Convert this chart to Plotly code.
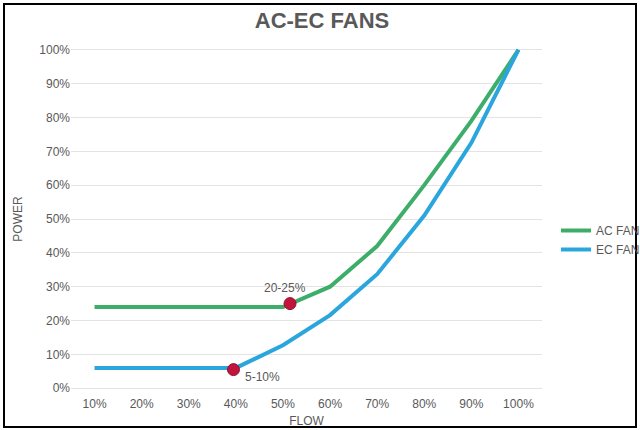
import plotly.graph_objects as go

flow = [10, 20, 30, 40, 50, 60, 70, 80, 90, 100]
flow_labels = ["10%", "20%", "30%", "40%", "50%", "60%", "70%", "80%", "90%", "100%"]
ac_power = [24, 24, 24, 24, 24, 30, 42, 60, 79, 100]
ec_power = [6, 6, 6, 6, 12.7, 21.6, 33.7, 51, 72.5, 100]
marker_x = [51.5, 39.5]
marker_y = [25, 5.5]
marker_text = ["20-25%", "5-10%"]
power_ticks = [0, 10, 20, 30, 40, 50, 60, 70, 80, 90, 100]
power_labels = [f"{v}%" for v in power_ticks]

GRAY = "#595959"
FONT = "Liberation Sans, Arial, sans-serif"

fig = go.Figure()
fig.add_trace(go.Scatter(x=flow, y=ac_power, mode="lines", name="AC FAN",
                         line=dict(color="#3dae6a", width=4)))
fig.add_trace(go.Scatter(x=flow, y=ec_power, mode="lines", name="EC FAN",
                         line=dict(color="#2aa6dc", width=4)))
fig.add_trace(go.Scatter(x=marker_x, y=marker_y, mode="markers", showlegend=False,
                         marker=dict(color="#c0143c", size=12,
                                     line=dict(color="#9a0f2e", width=1)),
                         cliponaxis=False))

shifts = [(-5, 16), (29, -7)]
for mx, my, txt, (dx, dy) in zip(marker_x, marker_y, marker_text, shifts):
    fig.add_annotation(x=mx, y=my, text=txt, showarrow=False, xshift=dx, yshift=dy,
                       font=dict(color=GRAY, size=12, family=FONT))

L, R, T, B = 71, 98, 43, 35
W, H = 640, 430
pw, ph = W - L - R, H - T - B

def px_x(px):
    return (px - L) / pw

def px_y(py):
    return (H - B - py) / ph

fig.add_shape(type="rect", xref="paper", yref="paper",
              x0=px_x(4), x1=px_x(636), y0=px_y(427), y1=px_y(4),
              line=dict(color="black", width=2), layer="above")

fig.update_layout(
    width=W, height=H,
    margin=dict(l=L, r=R, t=T, b=B, autoexpand=False),
    paper_bgcolor="white", plot_bgcolor="white",
    font=dict(family=FONT, color=GRAY, size=12),
    title=dict(text="<b>AC-EC FANS</b>", x=322 / W, xref="container", y=1 - 20 / H,
               yref="container", yanchor="middle", xanchor="center",
               font=dict(size=22, color=GRAY, family=FONT)),
    xaxis=dict(range=[5, 105], tickvals=flow, ticktext=flow_labels, showgrid=False,
               zeroline=False, showline=False, ticks="", tickfont=dict(size=12),
               title=dict(text="FLOW", standoff=6, font=dict(size=12, color=GRAY))),
    yaxis=dict(range=[-2, 102], tickvals=power_ticks, ticktext=power_labels,
               gridcolor="#e3e3e3", gridwidth=1, zeroline=False, showline=False, ticks="",
               tickfont=dict(size=12),
               title=dict(text="POWER", standoff=14, font=dict(size=12, color=GRAY))),
    legend=dict(x=px_x(556), y=px_y(216), xanchor="left", yanchor="top",
                font=dict(size=12, color=GRAY), itemwidth=30,
                bgcolor="rgba(0,0,0,0)", tracegroupgap=0),
)

fig.write_html("out.html")
